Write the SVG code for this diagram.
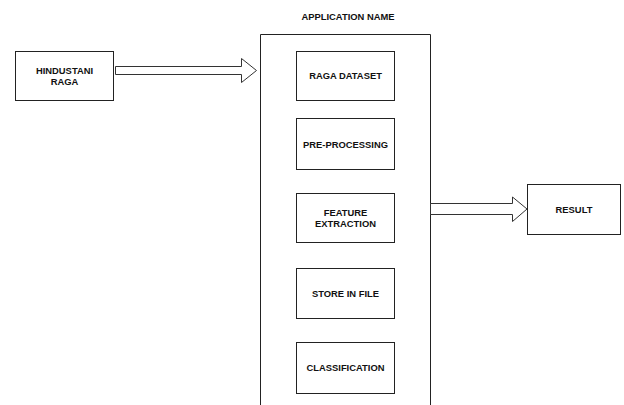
<svg xmlns="http://www.w3.org/2000/svg" width="624" height="405" viewBox="0 0 624 405">
<style>
.box{fill:#fff;stroke:#222;stroke-width:1}
.t{font-family:"Liberation Sans",Arial,sans-serif;font-weight:bold;font-size:9.4px;fill:#111;text-anchor:middle}
.arr{fill:#fff;stroke:#333;stroke-width:1}
</style>
<rect width="624" height="405" fill="#fff"/>
<g id="container">
<path class="box" d="M260.5 405 V34.5 H430.5 V405"/>
<text class="t" x="348" y="20" font-size="9">APPLICATION NAME</text>
</g>
<g id="hindustani">
<rect class="box" x="15.5" y="51.5" width="98" height="49"/>
<text class="t" x="64.5" y="74">HINDUSTANI</text>
<text class="t" x="64.5" y="85">RAGA</text>
</g>
<g id="raga-dataset">
<rect class="box" x="296.5" y="51.5" width="98" height="49"/>
<text class="t" x="345.5" y="78.7">RAGA DATASET</text>
</g>
<g id="pre-processing">
<rect class="box" x="296.5" y="118.5" width="98" height="51"/>
<text class="t" x="345.5" y="147.7">PRE-PROCESSING</text>
</g>
<g id="feature-extraction">
<rect class="box" x="296.5" y="193.5" width="98" height="49"/>
<text class="t" x="345.5" y="215.7">FEATURE</text>
<text class="t" x="345.5" y="226.7">EXTRACTION</text>
</g>
<g id="store-in-file">
<rect class="box" x="296.5" y="268.5" width="98" height="50"/>
<text class="t" x="345.5" y="296.7">STORE IN FILE</text>
</g>
<g id="classification">
<rect class="box" x="296.5" y="342.5" width="98" height="51"/>
<text class="t" x="345.5" y="371">CLASSIFICATION</text>
</g>
<g id="result">
<rect class="box" x="527.5" y="184.5" width="93" height="50"/>
<text class="t" x="574" y="212.5">RESULT</text>
</g>
<g id="connectors">
<path class="arr" d="M115.5 66.5 H241.5 V58.5 L256.5 70.5 L241.5 82.5 V74.5 H115.5 Z"/>
<path class="arr" d="M430.5 203.5 H512.5 V197 L527 209 L512.5 221.5 V214.5 H430.5 Z"/>
</g>
</svg>
